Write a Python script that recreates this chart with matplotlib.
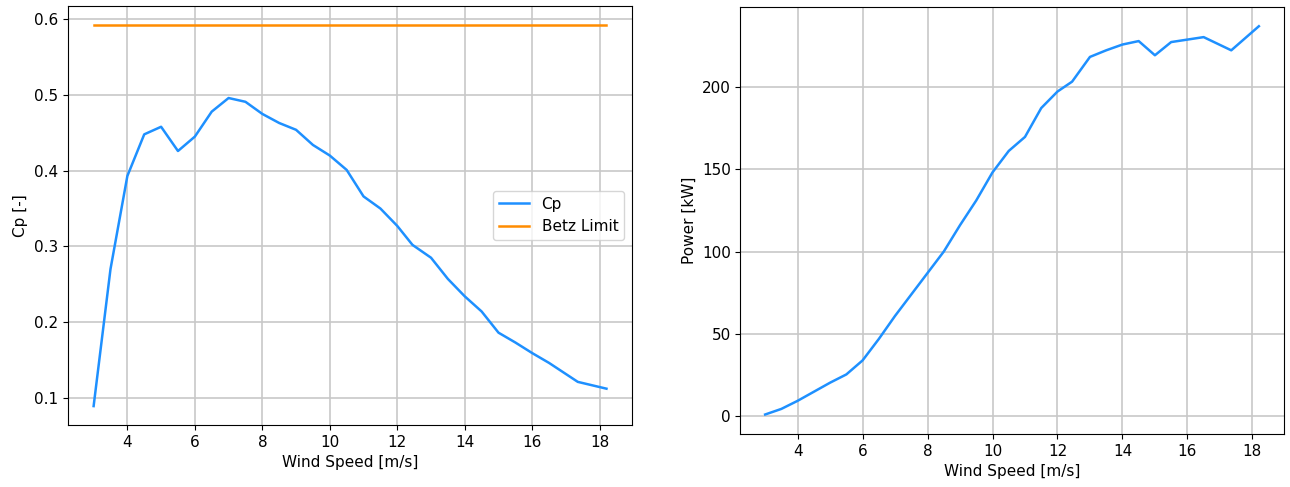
import matplotlib
matplotlib.use("Agg")
import matplotlib.pyplot as plt

wind_speed = [3.0, 3.5, 4.0, 4.5, 5.0, 5.5, 6.0, 6.5, 7.0, 7.5, 8.0, 8.5, 9.0, 9.5,
              10.0, 10.5, 11.0, 11.5, 12.0, 12.45, 13.0, 13.5, 14.0, 14.5, 15.0,
              15.5, 16.0, 16.5, 17.35, 18.2]
cp = [0.089, 0.270, 0.393, 0.448, 0.458, 0.426, 0.445, 0.478, 0.496, 0.491,
      0.475, 0.463, 0.454, 0.434, 0.420, 0.401, 0.366, 0.350, 0.327, 0.302,
      0.285, 0.257, 0.234, 0.214, 0.186, 0.173, 0.159, 0.146, 0.121, 0.112]
power_kw = [1.2, 4.6, 9.5, 15.0, 20.5, 25.5, 34.0, 47.0, 61.0, 74.0, 87.0, 100.0,
            116.0, 131.0, 148.0, 161.0, 169.5, 187.0, 197.0, 203.0, 218.0, 222.0,
            225.5, 227.6, 219.0, 227.0, 228.5, 230.0, 222.0, 236.6]
betz_limit = 16 / 27

line_blue = "#1e90ff"
fs = 11

fig = plt.figure(figsize=(12.9, 4.87), dpi=100)
ax1 = fig.add_axes([0.0527, 0.127, 0.4373, 0.861])
ax2 = fig.add_axes([0.574, 0.109, 0.421, 0.877])

ax1.plot(wind_speed, cp, color=line_blue, lw=1.8, label="Cp")
ax1.plot([wind_speed[0], wind_speed[-1]], [betz_limit, betz_limit],
         color="darkorange", lw=1.8, label="Betz Limit")
ax1.set_xlabel("Wind Speed [m/s]", fontsize=fs)
ax1.set_ylabel("Cp [-]", fontsize=fs)
ax1.legend(loc="center right", fontsize=fs)

ax2.plot(wind_speed, power_kw, color=line_blue, lw=1.8)
ax2.set_xlabel("Wind Speed [m/s]", fontsize=fs)
ax2.set_ylabel("Power [kW]", fontsize=fs)

for ax in (ax1, ax2):
    ax.grid(True, color="#c8c8c8", lw=1.2)
    ax.tick_params(labelsize=fs)
    ax.set_xticks([4, 6, 8, 10, 12, 14, 16, 18])

ax1.set_yticks([0.1, 0.2, 0.3, 0.4, 0.5, 0.6])
ax2.set_yticks([0, 50, 100, 150, 200])

fig.savefig("out.png", dpi=100)
